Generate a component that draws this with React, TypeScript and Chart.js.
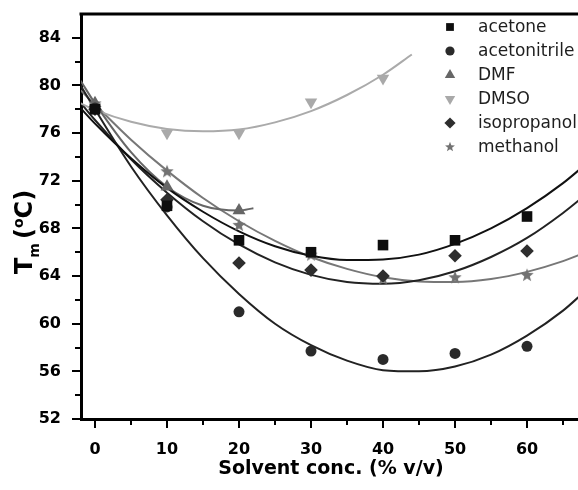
import React, { useEffect, useRef } from 'react';
import { Chart, registerables } from 'chart.js';

Chart.register(...registerables);

// ---------- data ----------
const concX = [0, 10, 20, 30, 40, 50, 60];
const acetoneTm = [78.0, 69.9, 67.0, 66.0, 66.6, 67.0, 69.0];
const acetonitrileTm = [78.1, 69.8, 61.0, 57.7, 57.0, 57.5, 58.1];
const dmfX = [0, 10, 20];
const dmfTm = [78.5, 71.5, 69.5];
const dmsoX = [0, 10, 20, 30, 40];
const dmsoTm = [78.2, 76.0, 76.0, 78.6, 80.6];
const isopropanolTm = [78.0, 70.4, 65.1, 64.5, 64.0, 65.7, 66.1];
const methanolTm = [78.5, 72.8, 68.3, 65.8, 63.8, 63.9, 64.1];

// fitted curves
const fitX = [-2, 0, 5, 10, 15, 20, 25, 30, 35, 40, 45, 50, 55, 60, 65, 68];
const acetoneFit = [78.1, 76.8, 73.9, 71.4, 69.4, 67.75, 66.5, 65.7, 65.35, 65.4, 65.8, 66.7, 68.0, 69.7, 71.8, 73.3];
const acetonitrileFit = [80.0, 78.0, 73.2, 69.1, 65.5, 62.5, 60.0, 58.2, 56.9, 56.1, 56.0, 56.4, 57.4, 59.0, 61.1, 62.7];
const isopropanolFit = [78.55, 77.1, 73.8, 71.0, 68.6, 66.65, 65.15, 64.1, 63.5, 63.35, 63.65, 64.4, 65.6, 67.2, 69.3, 70.75];
const methanolFit = [79.6, 78.4, 75.45, 72.85, 70.55, 68.6, 66.95, 65.6, 64.6, 63.9, 63.55, 63.5, 63.75, 64.35, 65.25, 65.95];
const dmfFitX = [-2, 0, 5, 10, 15, 20, 22];
const dmfFit = [80.4, 78.5, 74.4, 71.5, 69.9, 69.5, 69.7];
const dmsoFitX = [-2, 0, 5, 10, 15, 20, 25, 30, 35, 40, 44];
const dmsoFit = [78.5, 77.95, 76.95, 76.35, 76.15, 76.3, 76.9, 77.85, 79.2, 80.9, 82.6];

const seriesLabels = ['acetone', 'acetonitrile', 'DMF', 'DMSO', 'isopropanol', 'methanol'];

const xMajorTicks = [0, 10, 20, 30, 40, 50, 60];
const xMinorTicks = [5, 15, 25, 35, 45, 55, 65];
const yMajorTicks = [52, 56, 60, 64, 68, 72, 76, 80, 84];
const yMinorTicks = [54, 58, 62, 66, 70, 74, 78, 82];

const X_MIN = -1.944;
const X_MAX = 67.08;
const Y_MIN = 52;
const Y_MAX = 86;

// ---------- styles ----------
const styles = [
  { marker: 'rect', r: 7.5, rot: 0, color: '#0d0d0d', line: '#111111', lr: 5.5 },
  { marker: 'circle', r: 5.5, rot: 0, color: '#2a2a2a', line: '#222222', lr: 4.6 },
  { marker: 'triangle', r: 7.5, rot: 0, color: '#666666', line: '#666666', lr: 6 },
  { marker: 'triangle', r: 7.2, rot: 180, color: '#a9a9a9', line: '#aaaaaa', lr: 6 },
  { marker: 'rectRot', r: 6.8, rot: 0, color: '#2e2e2e', line: '#222222', lr: 5.6 },
  { marker: 'star', r: 7, rot: 0, color: '#727272', line: '#777777', lr: 5.2 },
];

function starPath(ctx: CanvasRenderingContext2D, cx: number, cy: number, R: number) {
  const r = R * 0.42;
  ctx.beginPath();
  for (let i = 0; i < 10; i++) {
    const rad = i % 2 === 0 ? R : r;
    const a = -Math.PI / 2 + (i * Math.PI) / 5;
    const px = cx + rad * Math.cos(a);
    const py = cy + rad * Math.sin(a);
    if (i === 0) ctx.moveTo(px, py);
    else ctx.lineTo(px, py);
  }
  ctx.closePath();
}

function makeStar(R: number, color: string) {
  const c = document.createElement('canvas');
  const s = Math.ceil(R * 2 + 2);
  c.width = s;
  c.height = s;
  const g = c.getContext('2d')!;
  g.fillStyle = color;
  starPath(g, s / 2, s / 2 + 0.5, R);
  g.fill();
  return c;
}

function drawMarker(ctx: CanvasRenderingContext2D, kind: string, rot: number, x: number, y: number, r: number, color: string) {
  ctx.fillStyle = color;
  ctx.beginPath();
  if (kind === 'rect') {
    const h = r * Math.SQRT1_2;
    ctx.rect(x - h, y - h, 2 * h, 2 * h);
  } else if (kind === 'circle') {
    ctx.arc(x, y, r, 0, Math.PI * 2);
  } else if (kind === 'triangle') {
    let a = (rot * Math.PI) / 180;
    for (let i = 0; i < 3; i++) {
      const px = x + Math.sin(a) * r;
      const py = y - Math.cos(a) * r;
      if (i === 0) ctx.moveTo(px, py);
      else ctx.lineTo(px, py);
      a += (2 * Math.PI) / 3;
    }
    ctx.closePath();
  } else if (kind === 'rectRot') {
    ctx.moveTo(x - r, y);
    ctx.lineTo(x, y - r);
    ctx.lineTo(x + r, y);
    ctx.lineTo(x, y + r);
    ctx.closePath();
  } else if (kind === 'star') {
    starPath(ctx, x, y, r);
  }
  ctx.fill();
}

const decorPlugin = {
  id: 'decor',
  afterDraw(chart: any) {
    const { ctx, chartArea: ca, scales } = chart;
    const xs = scales.x;
    const ys = scales.y;
    ctx.save();
    // top frame
    ctx.strokeStyle = '#000';
    ctx.lineWidth = 3;
    ctx.beginPath();
    ctx.moveTo(ca.left - 1.5, ca.top);
    ctx.lineTo(ca.right + 2, ca.top);
    ctx.stroke();

    // ticks
    ctx.lineWidth = 2;
    ctx.beginPath();
    yMajorTicks.forEach((v) => {
      const p = Math.round(ys.getPixelForValue(v));
      ctx.moveTo(ca.left - 1, p);
      ctx.lineTo(ca.left - 9, p);
    });
    yMinorTicks.forEach((v) => {
      const p = Math.round(ys.getPixelForValue(v));
      ctx.moveTo(ca.left - 1, p);
      ctx.lineTo(ca.left - 6, p);
    });
    xMajorTicks.forEach((v) => {
      const p = Math.round(xs.getPixelForValue(v));
      ctx.moveTo(p, ca.bottom + 1);
      ctx.lineTo(p, ca.bottom + 9);
    });
    xMinorTicks.forEach((v) => {
      const p = Math.round(xs.getPixelForValue(v));
      ctx.moveTo(p, ca.bottom + 1);
      ctx.lineTo(p, ca.bottom + 6);
    });
    ctx.stroke();

    // legend
    const lx = 450;
    const tx = 478;
    seriesLabels.forEach((lab, i) => {
      const st = styles[i];
      const yy = 27 + i * 24;
      drawMarker(ctx, st.marker, st.rot, lx, yy, st.lr, st.color);
      ctx.fillStyle = '#1e1e1e';
      ctx.font = '17px "DejaVu Sans"';
      ctx.textAlign = 'left';
      ctx.textBaseline = 'middle';
      ctx.fillText(lab, tx, yy + 1);
    });

    // x-axis title
    ctx.fillStyle = '#000';
    ctx.font = 'bold 19px "DejaVu Sans"';
    ctx.textAlign = 'center';
    ctx.textBaseline = 'alphabetic';
    ctx.fillText('Solvent conc. (% v/v)', 331, 474);

    // y-axis title: T_m (°C)
    ctx.translate(32, 274);
    ctx.rotate(-Math.PI / 2);
    ctx.textAlign = 'left';
    let u = 0;
    ctx.font = 'bold 24px "DejaVu Sans"';
    ctx.fillText('T', u, 0);
    u += ctx.measureText('T').width;
    ctx.font = 'bold 14px "DejaVu Sans"';
    ctx.fillText('m', u, 7);
    u += ctx.measureText('m').width + 4;
    ctx.font = 'bold 24px "DejaVu Sans"';
    ctx.fillText('(', u, 0);
    u += ctx.measureText('(').width;
    ctx.font = 'bold 14px "DejaVu Sans"';
    ctx.fillText('o', u, -9);
    u += ctx.measureText('o').width;
    ctx.font = 'bold 24px "DejaVu Sans"';
    ctx.fillText('C)', u, 0);
    ctx.restore();
  },
};

export default function App() {
  const ref = useRef<HTMLCanvasElement>(null);

  useEffect(() => {
    if (!ref.current) return;
    const star = makeStar(styles[5].r, styles[5].color);

    const pointSets = [
      { xs: concX, ys: acetoneTm },
      { xs: concX, ys: acetonitrileTm },
      { xs: dmfX, ys: dmfTm },
      { xs: dmsoX, ys: dmsoTm },
      { xs: concX, ys: isopropanolTm },
      { xs: concX, ys: methanolTm },
    ];
    const fitSets = [
      { xs: fitX, ys: acetoneFit },
      { xs: fitX, ys: acetonitrileFit },
      { xs: dmfFitX, ys: dmfFit },
      { xs: dmsoFitX, ys: dmsoFit },
      { xs: fitX, ys: isopropanolFit },
      { xs: fitX, ys: methanolFit },
    ];

    const datasets: any[] = [];
    pointSets.forEach((ps, i) => {
      const st = styles[i];
      datasets.push({
        label: seriesLabels[i],
        data: ps.xs.map((x, j) => ({ x, y: ps.ys[j] })),
        showLine: false,
        pointStyle: st.marker === 'star' ? star : st.marker,
        pointRadius: st.r,
        pointRotation: st.rot,
        backgroundColor: st.color,
        borderColor: st.color,
        pointBorderWidth: 0,
        order: 0,
      });
    });
    fitSets.forEach((fs, i) => {
      const st = styles[i];
      datasets.push({
        label: seriesLabels[i] + ' fit',
        data: fs.xs.map((x, j) => ({ x, y: fs.ys[j] })),
        showLine: true,
        pointRadius: 0,
        borderColor: st.line,
        borderWidth: 2,
        cubicInterpolationMode: 'monotone',
        fill: false,
        order: 1,
      });
    });

    const tickFont = { family: '"DejaVu Sans"', weight: 'bold' as const, size: 16 };

    const chart = new Chart(ref.current, {
      type: 'scatter',
      data: { datasets },
      options: {
        responsive: false,
        animation: false,
        devicePixelRatio: 1,
        layout: { autoPadding: false, padding: { top: 14, right: 0, left: 0, bottom: 0 } },
        plugins: { legend: { display: false }, tooltip: { enabled: false } },
        scales: {
          x: {
            type: 'linear',
            min: X_MIN,
            max: X_MAX,
            afterFit: (s: any) => {
              s.height = 71;
              s.paddingLeft = 0;
              s.paddingRight = 0;
            },
            ticks: {
              stepSize: 10,
              includeBounds: false,
              padding: 13,
              font: tickFont,
              color: '#000',
              maxRotation: 0,
              autoSkip: false,
            },
            grid: { display: false },
            border: { display: true, width: 3, color: '#000' },
          },
          y: {
            type: 'linear',
            min: Y_MIN,
            max: Y_MAX,
            afterFit: (s: any) => {
              s.width = 81;
              s.paddingTop = 0;
              s.paddingBottom = 0;
            },
            ticks: {
              stepSize: 4,
              includeBounds: false,
              padding: 12,
              font: tickFont,
              color: '#000',
              autoSkip: false,
            },
            grid: { display: false },
            border: { display: true, width: 3, color: '#000' },
          },
        },
      } as any,
      plugins: [decorPlugin],
    });
    return () => chart.destroy();
  }, []);

  return (
    <div style={{ position: 'absolute', left: 0, top: 0, width: 578, height: 490, background: '#fff' }}>
      <canvas ref={ref} width={578} height={490} style={{ display: 'block', width: 578, height: 490 }} />
    </div>
  );
}
